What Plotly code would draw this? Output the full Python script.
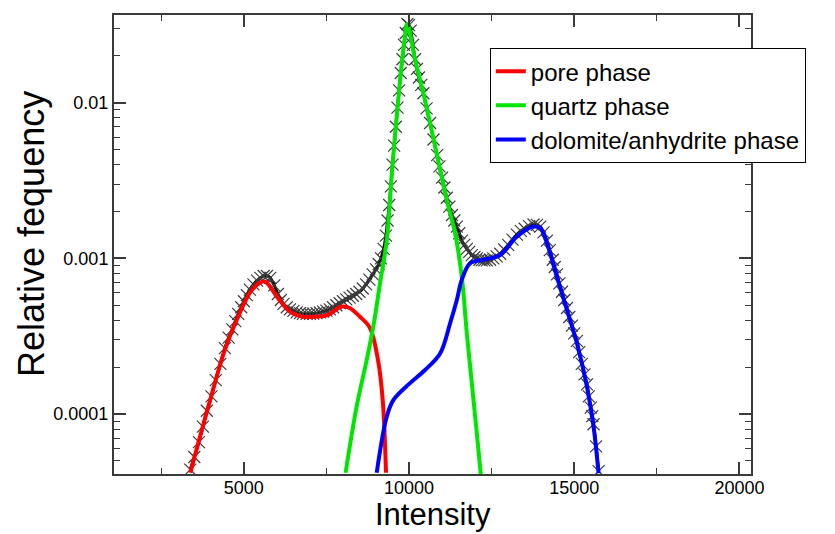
import plotly.graph_objects as go

# ---------------- data ----------------
pore_x = [3380, 3880, 4425, 4828, 5182, 5450, 5637, 6030, 6394, 6788, 7200, 7515, 7961, 8200, 8515, 8818, 9061, 9203, 9303]
pore_y = [4.2e-5, 1.03e-4, 2.58e-4, 4.22e-4, 6.0e-4, 6.9e-4, 7.1e-4, 5.57e-4, 4.55e-4, 4.22e-4, 4.22e-4, 4.3e-4, 4.9e-4, 4.8e-4, 4.22e-4, 3.57e-4, 2.22e-4, 1.23e-4, 4.2e-5]

quartz_x = [8080, 8415, 8718, 8918, 9122, 9324, 9500, 9700, 9850, 9950, 10183, 10434, 10637, 11143, 11394, 11597, 11749, 11900, 12052, 12173]
quartz_y = [4.2e-5, 1.12e-4, 2.22e-4, 3.64e-4, 6.92e-4, 1.3e-3, 4.0e-3, 1.2e-2, 2.4e-2, 3.2e-2, 1.88e-2, 1.15e-2, 7.4e-3, 2.37e-3, 1.45e-3, 7.6e-4, 3.3e-4, 1.58e-4, 7.5e-5, 4.07e-5]

dolo_x = [9022, 9324, 9524, 10030, 10485, 10940, 11243, 11446, 11597, 11849, 12252, 12758, 13264, 13767, 13970, 14173, 14476, 14779, 15082, 15385, 15585, 15737]
dolo_y = [4.2e-5, 9.6e-5, 1.23e-4, 1.58e-4, 1.92e-4, 2.45e-4, 3.83e-4, 5.4e-4, 7.3e-4, 9.3e-4, 9.8e-4, 1.05e-3, 1.38e-3, 1.6e-3, 1.56e-3, 1.25e-3, 7.6e-4, 4.67e-4, 2.85e-4, 1.5e-4, 8.3e-5, 4.17e-5]

meas_x = [3380, 3500, 3640, 3760, 3880, 4020, 4150, 4290, 4425, 4540, 4650, 4740, 4828, 4920, 5000, 5090,
          5182, 5290, 5400, 5500, 5600, 5700, 5800, 5920, 6030, 6120, 6200, 6300, 6394, 6500, 6600, 6700,
          6788, 6900, 7000, 7100, 7200, 7300, 7400, 7500, 7600, 7700, 7800, 7900, 8000, 8100, 8200, 8300,
          8400, 8500, 8600, 8700, 8800, 8900, 9000, 9080, 9150, 9230, 9300, 9350, 9400, 9450, 9500, 9550,
          9600, 9650, 9700, 9750, 9800, 9850, 9900, 9950, 10000, 10050, 10120, 10183, 10240, 10300, 10370,
          10434, 10530, 10637, 10740, 10850, 10920, 11000, 11070, 11143, 11220, 11300, 11370, 11446, 11520,
          11600, 11670, 11749, 11820, 11900, 11980, 12052, 12130, 12200, 12280, 12355, 12450, 12550, 12650,
          12758, 12880, 13000, 13130, 13264, 13380, 13500, 13630, 13767, 13870, 13970, 14070, 14173, 14260,
          14350, 14410, 14476, 14550, 14630, 14700, 14779, 14850, 14930, 15000, 15082, 15150, 15230, 15310,
          15385, 15440, 15500, 15545, 15585, 15660, 15737]
meas_y = [4.4e-5, 5.3e-5, 6.6e-5, 8.3e-5, 1.05e-4, 1.3e-4, 1.65e-4, 2.1e-4, 2.65e-4, 3.1e-4, 3.5e-4, 3.95e-4,
          4.4e-4, 4.85e-4, 5.3e-4, 5.8e-4, 6.3e-4, 6.8e-4, 7.2e-4, 7.5e-4, 7.7e-4, 7.7e-4, 7.5e-4, 6.7e-4,
          5.9e-4, 5.4e-4, 5.1e-4, 4.85e-4, 4.7e-4, 4.6e-4, 4.5e-4, 4.45e-4, 4.4e-4, 4.4e-4, 4.4e-4, 4.42e-4,
          4.45e-4, 4.5e-4, 4.55e-4, 4.62e-4, 4.7e-4, 4.85e-4, 5.0e-4, 5.15e-4, 5.3e-4, 5.45e-4, 5.6e-4,
          5.75e-4, 5.9e-4, 6.1e-4, 6.4e-4, 6.8e-4, 7.3e-4, 7.9e-4, 8.5e-4, 9.2e-4, 1.0e-3, 1.15e-3, 1.4e-3,
          1.75e-3, 2.2e-3, 2.9e-3, 4.0e-3, 5.3e-3, 7.0e-3, 9.3e-3, 1.2e-2, 1.55e-2, 1.9e-2, 2.35e-2, 2.8e-2,
          3.2e-2, 3.15e-2, 2.9e-2, 2.35e-2, 1.9e-2, 1.65e-2, 1.45e-2, 1.3e-2, 1.15e-2, 9.2e-3, 7.4e-3, 5.8e-3,
          4.6e-3, 3.9e-3, 3.3e-3, 2.85e-3, 2.45e-3, 2.15e-3, 1.9e-3, 1.75e-3, 1.6e-3, 1.45e-3, 1.3e-3, 1.22e-3,
          1.15e-3, 1.1e-3, 1.05e-3, 1.02e-3, 1.0e-3, 9.8e-4, 9.7e-4, 9.7e-4, 9.7e-4, 9.8e-4, 1.0e-3, 1.03e-3,
          1.07e-3, 1.14e-3, 1.22e-3, 1.32e-3, 1.42e-3, 1.5e-3, 1.55e-3, 1.61e-3, 1.65e-3, 1.64e-3, 1.6e-3,
          1.47e-3, 1.3e-3, 1.13e-3, 9.8e-4, 8.8e-4, 7.9e-4, 6.9e-4, 6.1e-4, 5.4e-4, 4.8e-4, 4.2e-4, 3.7e-4,
          3.3e-4, 2.95e-4, 2.5e-4, 2.1e-4, 1.8e-4, 1.55e-4, 1.3e-4, 1.1e-4, 9.7e-5, 8.6e-5, 6.2e-5, 4.3e-5]

x_tick_vals = [5000, 10000, 15000, 20000]
x_tick_text = ["5000", "10000", "15000", "20000"]
y_tick_vals = [0.0001, 0.001, 0.01]
y_tick_text = ["0.0001", "0.001", "0.01"]
y_minor_vals = [k * 10.0 ** e for e in range(-5, -1) for k in range(2, 10)]

FONT = "Liberation Sans, Arial, sans-serif"
AX = "#3a3a3a"
PL, PR, PT, PB = 114, 751, 15, 474  # plot-area edges in pixels

fig = go.Figure()
fig.add_trace(go.Scatter(
    x=meas_x, y=meas_y, mode="lines+markers", showlegend=False,
    line=dict(color="black", width=3, shape="spline"),
    marker=dict(symbol="x-thin", size=12, line=dict(color="#3c3c3c", width=1.2)),
))
fig.add_trace(go.Scatter(x=pore_x, y=pore_y, mode="lines", name="pore phase",
                         line=dict(color="#ff0000", width=4, shape="spline")))
fig.add_trace(go.Scatter(x=quartz_x, y=quartz_y, mode="lines", name="quartz phase",
                         line=dict(color="#00e600", width=4, shape="spline")))
fig.add_trace(go.Scatter(x=dolo_x, y=dolo_y, mode="lines", name="dolomite/anhydrite phase",
                         line=dict(color="#0000ff", width=4, shape="spline")))

axis_common = dict(showline=True, linecolor=AX, linewidth=2, mirror="ticks", ticks="inside",
                   tickcolor=AX, tickwidth=1.5, ticklen=12, showgrid=False, zeroline=False,
                   tickfont=dict(family=FONT, size=18, color="black"))

fig.update_xaxes(range=[1070, 20350], tickvals=x_tick_vals, ticktext=x_tick_text,
                 minor=dict(ticks="inside", ticklen=6, tickcolor=AX, tickwidth=1.2, dtick=2500, tick0=0, showgrid=False),
                 ticklabelstandoff=-4, automargin=False, **axis_common)
fig.update_yaxes(type="log", range=[-4.385, -1.437], tickvals=y_tick_vals, ticktext=y_tick_text,
                 minor=dict(ticks="inside", ticklen=6, tickcolor=AX, tickwidth=1.2, tickvals=y_minor_vals, showgrid=False),
                 automargin=False, **axis_common)

# axis titles placed where the reference shows them
fig.add_annotation(text="Intensity", xref="paper", yref="paper",
                   x=0.5, y=1 - (514 - PT) / (PB - PT),
                   xanchor="center", yanchor="middle", showarrow=False, borderpad=0,
                   font=dict(family=FONT, size=31, color="black"))
fig.add_annotation(text="Relative fequency", xref="paper", yref="paper",
                   x=(31 - PL) / (PR - PL), y=1 - (234 - PT) / (PB - PT),
                   xanchor="center", yanchor="middle", textangle=-90, showarrow=False,
                   font=dict(family=FONT, size=36, color="black"))

fig.update_layout(
    width=835, height=534,
    margin=dict(l=PL, r=835 - PR, t=PT, b=534 - PB, autoexpand=False),
    plot_bgcolor="white", paper_bgcolor="white",
    legend=dict(x=0.59, y=0.928, xanchor="left", yanchor="top",
                bgcolor="white", bordercolor="black", borderwidth=1,
                font=dict(family=FONT, size=24, color="black"),
                tracegroupgap=0, itemwidth=30),
)

fig.write_html("out.html")
